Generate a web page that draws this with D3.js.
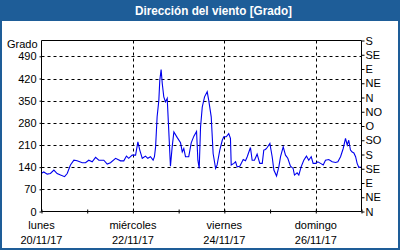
<!DOCTYPE html>
<html><head><meta charset="utf-8">
<script src="https://cdn.jsdelivr.net/npm/d3@7"></script>
<style>body{margin:0;background:#fff}svg{display:block}</style>
</head><body><svg width="400" height="250"></svg>
<script>
// hours since 20/11/17 00:00
const hours = [0,1.2,3.0,4.7,6.5,8.2,10.0,12.1,13.5,15.2,17.0,18.7,21.4,23.1,24.8,26.6,28.4,30.1,32.7,34.5,36.2,38.9,41.5,43.2,44.6,45.8,47.6,49.4,50.6,51.6,52.9,54.6,55.8,57.2,58.6,59.3,59.9,60.7,61.6,62.1,62.8,63.4,64.2,65.1,66.0,66.8,67.7,68.6,69.5,71.2,73.0,73.9,74.7,75.6,77.3,78.6,80.0,81.4,82.1,82.8,83.5,84.4,85.6,87.0,87.8,89.1,90.1,91.4,92.2,93.6,94.9,95.7,97.0,98.3,99.2,99.6,101.0,101.9,102.7,104.1,105.9,107.1,108.0,109.7,110.6,111.8,113.2,114.6,115.9,116.7,117.6,118.5,119.9,121.1,122.0,123.4,124.6,125.5,126.9,128.1,129.3,130.7,132.1,132.8,134.2,135.1,136.3,137.7,139.1,140.3,141.6,142.6,143.9,145.1,146.5,147.9,149.1,150.8,152.6,154.4,155.6,157.0,158.4,159.6,160.5,161.3,162.2,163.1,164.0,164.9,165.7,166.6,167.5];
const values = [121,125,118,120,131,120,115,110,120,147,162,160,154,154,162,157,171,162,162,150,154,168,160,160,175,168,178,178,220,194,168,175,168,173,162,173,204,299,351,414,448,404,362,346,357,257,143,204,251,234,217,188,199,173,173,217,238,253,162,136,267,330,362,378,351,299,183,136,147,194,225,236,236,246,231,147,152,157,141,143,164,160,173,202,162,162,181,152,152,194,196,202,215,173,131,112,141,173,204,178,168,143,136,115,122,115,141,162,175,162,173,152,152,157,152,147,162,164,157,155,157,173,199,231,210,225,194,188,185,173,152,139,141];
const yTicks = [0,70,140,210,280,350,420,490];
const dirTicks = [0,45,90,135,180,225,270,315,360,405,450,495,540];
const dirLabels = ["N","NE","E","SE","S","SO","O","NO","N","NE","E","SE","S"];
const dayOffsets = [0,1,2,3,4,5,6,7];
const dayLabels = ["lunes","miércoles","viernes","domingo"];
const dateLabels = ["20/11/17","22/11/17","24/11/17","26/11/17"];
const titleText = "Dirección del viento [Grado]";
const unitText = "Grado";

const start = new Date(2017,10,20,0,0);
const addH = h => new Date(start.getTime() + h*3600000);
const svg = d3.select("svg");
const FONT = "'Liberation Sans', Arial, sans-serif";
const BLUE = "#1e5d98";

// frame
svg.append("rect").attr("x",0).attr("y",0).attr("width",400).attr("height",250).attr("fill",BLUE);
svg.append("rect").attr("x",2).attr("y",21).attr("width",396).attr("height",227).attr("fill","#fff");
svg.append("text").attr("x",135).attr("y",15).attr("textLength",157).attr("lengthAdjust","spacingAndGlyphs")
  .attr("fill","#fff").attr("font-family",FONT).attr("font-weight","bold").attr("font-size",12).text(titleText);

const x = d3.scaleTime().domain([start, addH(168)]).range([41.5,361.5]);
const y = d3.scaleLinear().domain([0,540]).range([211.5,40.5]);

// horizontal grid
svg.append("g").selectAll("line").data(yTicks.filter(d=>d>0)).join("line")
  .attr("x1",41.5).attr("x2",361.5).attr("y1",d=>Math.round(y(d))+0.5).attr("y2",d=>Math.round(y(d))+0.5)
  .attr("stroke","#000").attr("stroke-dasharray","3,3");
// vertical grid at major days
svg.append("g").selectAll("line").data([2,4,6]).join("line")
  .attr("x1",d=>Math.round(x(addH(d*24)))+0.5).attr("x2",d=>Math.round(x(addH(d*24)))+0.5)
  .attr("y1",40.5).attr("y2",211.5).attr("stroke","#000").attr("stroke-dasharray","3,3");

// line
const line = d3.line().x((d,i)=>x(addH(hours[i]))).y(d=>y(d));
svg.append("path").datum(values).attr("d",line).attr("fill","none").attr("stroke","#0000ee").attr("stroke-width",1.1);

// top border
svg.append("line").attr("x1",41.5).attr("x2",361.5).attr("y1",40.5).attr("y2",40.5).attr("stroke","#000");

// left axis
const yAxis = d3.axisLeft(y).tickValues(yTicks).tickSize(2).tickPadding(3);
const gy = svg.append("g").attr("transform","translate(41.5,0)").call(yAxis);
gy.select(".domain").attr("d","M0,40.5V211.5");
gy.selectAll("text").attr("font-family",FONT).attr("font-size",11).attr("fill","#000");

// right axis
const rAxis = d3.axisRight(y).tickValues(dirTicks).tickFormat((d,i)=>dirLabels[i]).tickSize(3).tickPadding(1);
const gr = svg.append("g").attr("transform","translate(361.5,0)").call(rAxis);
gr.select(".domain").attr("d","M0,40.5V211.5");
gr.selectAll("text").attr("font-family",FONT).attr("font-size",11).attr("fill","#000");

// bottom axis
const xAxis = d3.axisBottom(x).tickValues(dayOffsets.map(d=>addH(d*24))).tickSize(0).tickFormat("");
const gx = svg.append("g").attr("transform","translate(0,211.5)").call(xAxis);
gx.select(".domain").attr("d","M41.5,0H361.5");
gx.selectAll(".tick line").attr("y1",-2).attr("y2",2).attr("stroke","#000");

// x labels
const lab = svg.append("g").attr("font-family",FONT).attr("font-size",11).attr("text-anchor","middle").attr("fill","#000");
lab.selectAll("text.d").data(dayLabels).join("text").attr("class","d")
  .attr("x",(d,i)=>x(addH(i*48))).attr("y",229).text(d=>d);
lab.selectAll("text.t").data(dateLabels).join("text").attr("class","t")
  .attr("x",(d,i)=>x(addH(i*48))).attr("y",244).text(d=>d);

svg.append("text").attr("x",7).attr("y",48).attr("font-family",FONT).attr("font-size",11).attr("fill","#000").text(unitText);
</script></body></html>
